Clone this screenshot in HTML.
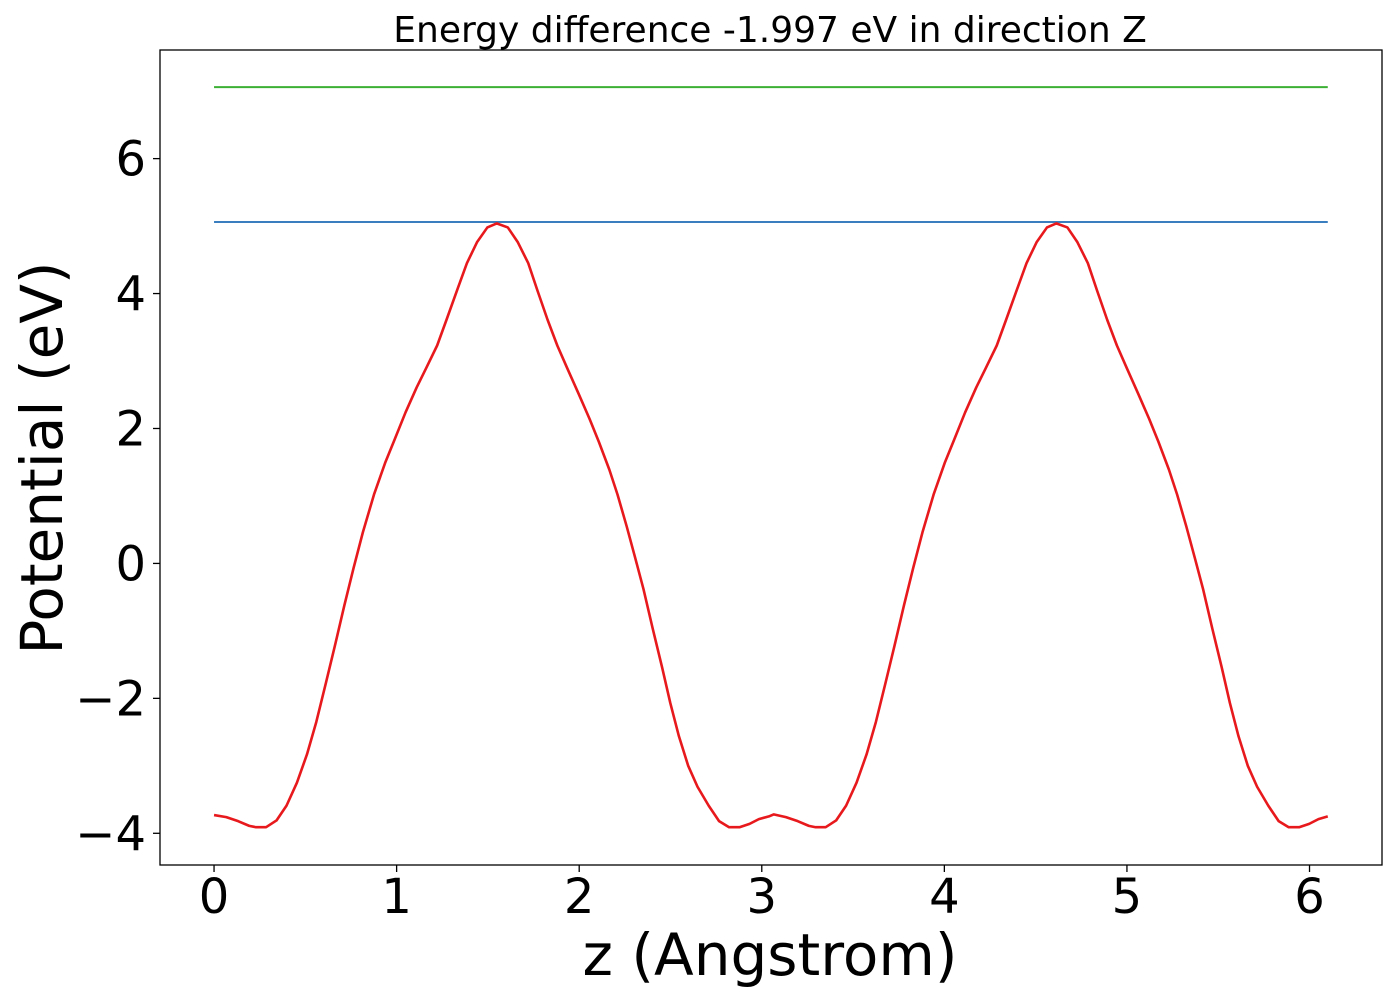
<!DOCTYPE html>
<html><head><meta charset="utf-8"><style>
html,body{margin:0;padding:0;background:#fff;}
svg{display:block;font-family:"DejaVu Sans","Liberation Sans",sans-serif;}
</style></head><body>
<svg id="chart" width="1400" height="1000" viewBox="0 0 1400 1000">
<rect x="0" y="0" width="1400" height="1000" fill="#fff"/>
<text x="770" y="42" font-size="36" text-anchor="middle" fill="#000">Energy difference -1.997 eV in direction Z</text>
<g id="plot"></g>
<text x="770" y="975" font-size="58" text-anchor="middle" fill="#000">z (Angstrom)</text>
<text transform="translate(62,458) rotate(-90)" font-size="58" text-anchor="middle" fill="#000">Potential (eV)</text>
</svg>
<script>
const zValues = [0,0.067,0.132,0.193,0.23,0.285,0.342,0.397,0.454,0.509,0.56,0.611,0.662,0.713,0.764,0.815,0.876,0.937,0.988,1.049,1.11,1.161,1.222,1.273,1.334,1.385,1.44,1.497,1.548,1.609,1.664,1.721,1.772,1.827,1.88,1.935,1.996,2.057,2.108,2.165,2.21,2.26,2.307,2.352,2.403,2.454,2.499,2.546,2.597,2.648,2.709,2.766,2.821,2.878,2.933,2.984,3.039,3.065,
3.132,3.197,3.258,3.295,3.35,3.407,3.462,3.519,3.574,3.625,3.676,3.727,3.778,3.829,3.88,3.941,4.002,4.053,4.114,4.175,4.226,4.287,4.338,4.399,4.45,4.505,4.562,4.613,4.674,4.729,4.786,4.837,4.892,4.945,5.0,5.061,5.122,5.173,5.23,5.275,5.325,5.372,5.417,5.468,5.519,5.564,5.611,5.662,5.713,5.774,5.831,5.886,5.943,5.998,6.049,6.1];
const potentialValues = [-3.73,-3.76,-3.82,-3.89,-3.91,-3.91,-3.81,-3.59,-3.25,-2.83,-2.35,-1.79,-1.22,-0.63,-0.07,0.46,1.02,1.49,1.83,2.24,2.61,2.89,3.23,3.61,4.07,4.45,4.76,4.98,5.04,4.98,4.76,4.45,4.04,3.61,3.23,2.89,2.52,2.14,1.80,1.39,1.02,0.55,0.08,-0.38,-0.97,-1.54,-2.07,-2.56,-3.0,-3.31,-3.59,-3.82,-3.91,-3.91,-3.86,-3.79,-3.75,-3.72,
-3.76,-3.82,-3.89,-3.91,-3.91,-3.81,-3.59,-3.25,-2.83,-2.35,-1.79,-1.22,-0.63,-0.07,0.46,1.02,1.49,1.83,2.24,2.61,2.89,3.23,3.61,4.07,4.45,4.76,4.98,5.04,4.98,4.76,4.45,4.04,3.61,3.23,2.89,2.52,2.14,1.80,1.39,1.02,0.55,0.08,-0.38,-0.97,-1.54,-2.07,-2.56,-3.0,-3.31,-3.59,-3.82,-3.91,-3.91,-3.86,-3.79,-3.75,-3.73];
const blueLevel = [5.06];
const greenLevel = [7.06];
const xTicks = [0,1,2,3,4,5,6];
const yTicks = [-4,-2,0,2,4,6];

const NS = "http://www.w3.org/2000/svg";
const L = 160, R = 1382, T = 50, B = 865;
const xMin = -0.296, xMax = 6.397, yMin = -4.47, yMax = 7.61;
function sx(v){ return L + (v - xMin) / (xMax - xMin) * (R - L); }
function sy(v){ return B - (v - yMin) / (yMax - yMin) * (B - T); }
const plot = document.getElementById('plot');
function mk(tag, attrs){ const e = document.createElementNS(NS, tag); for (const k in attrs) e.setAttribute(k, attrs[k]); return e; }

const zStart = zValues[0], zEnd = zValues[zValues.length - 1];
const green = mk('line', {x1: sx(zStart), x2: sx(zEnd), y1: sy(greenLevel[0]), y2: sy(greenLevel[0]), stroke: '#3cb034', 'stroke-width': 2});


plot.appendChild(green);
const blue = mk('line', {x1: sx(zStart), x2: sx(zEnd), y1: sy(blueLevel[0]), y2: sy(blueLevel[0]), stroke: '#3a7ebf', 'stroke-width': 2});


plot.appendChild(blue);

let d = '';
zValues.forEach((z, i) => { d += (i ? 'L' : 'M') + sx(z).toFixed(2) + ',' + sy(potentialValues[i]).toFixed(2); });
const curve = mk('path', {d: d, fill: 'none', stroke: '#e8191c', 'stroke-width': 2.6, 'stroke-linejoin': 'round'});


plot.appendChild(curve);

const frame = mk('rect', {x: L, y: T, width: R - L, height: B - T, fill: 'none', stroke: '#000', 'stroke-width': 1.3});


plot.appendChild(frame);

xTicks.forEach(t => {
  const tk = mk('line', {x1: sx(t), x2: sx(t), y1: B, y2: B + 7, stroke: '#000', 'stroke-width': 1.3});
  
  
  plot.appendChild(tk);
  const tx = mk('text', {x: sx(t), y: 913, 'font-size': 48, 'text-anchor': 'middle', fill: '#000'});
  tx.textContent = String(t);
  
  
  plot.appendChild(tx);
});
yTicks.forEach(t => {
  const tk = mk('line', {x1: L - 7, x2: L, y1: sy(t), y2: sy(t), stroke: '#000', 'stroke-width': 1.3});
  
  
  plot.appendChild(tk);
  const tx = mk('text', {x: 146, y: sy(t) + 17, 'font-size': 48, 'text-anchor': 'end', fill: '#000'});
  tx.textContent = t < 0 ? '\u2212' + Math.abs(t) : String(t);
  
  
  plot.appendChild(tx);
});
</script>
</body></html>
